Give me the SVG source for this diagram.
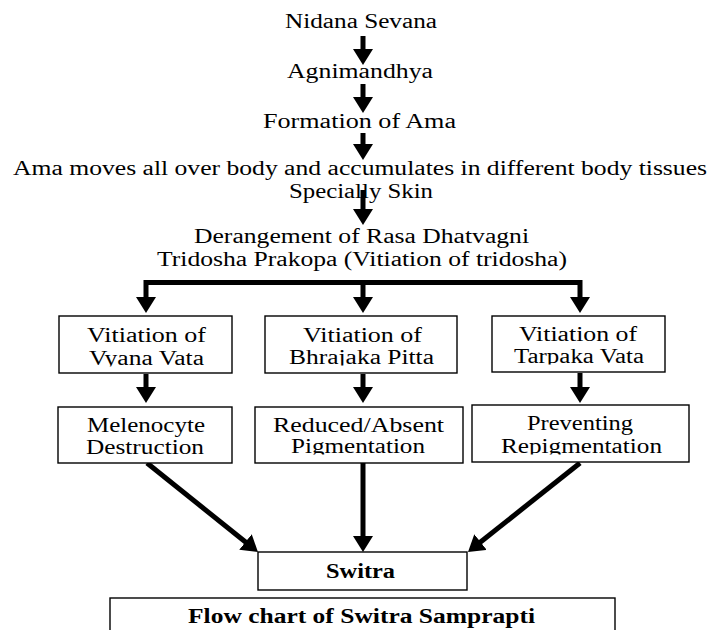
<svg xmlns="http://www.w3.org/2000/svg" width="709" height="630" viewBox="0 0 709 630">
<style>
text{font-family:"Liberation Serif","Times New Roman",serif;font-size:20px;fill:#000}
.b{font-weight:bold}
.box{fill:#fff;stroke:#000;stroke-width:1.4}
.c{fill:none;stroke:#000;stroke-width:5;stroke-linejoin:miter}
</style>
<defs>
<marker id="ah" markerUnits="userSpaceOnUse" markerWidth="17" markerHeight="21" refX="4" refY="10" orient="auto-start-reverse" viewBox="0 0 17 21">
<path d="M0,0 L16,10 L0,20 z" fill="#000"/>
</marker>
<clipPath id="c1"><rect x="0" y="300" width="709" height="66.5"/></clipPath>
<clipPath id="c2"><rect x="0" y="300" width="709" height="65.5"/></clipPath>
<clipPath id="c3"><rect x="0" y="300" width="709" height="64.5"/></clipPath>
<clipPath id="c5"><rect x="0" y="395" width="709" height="59.5"/></clipPath>
<clipPath id="c6"><rect x="0" y="395" width="709" height="59.5"/></clipPath>
</defs>
<rect width="709" height="630" fill="#fff"/>

<g id="connectors">
<line class="c" x1="363" y1="36" x2="363" y2="53" marker-end="url(#ah)"/>
<line class="c" x1="363" y1="84" x2="363" y2="101" marker-end="url(#ah)"/>
<line class="c" x1="363" y1="133" x2="363" y2="148" marker-end="url(#ah)"/>
<line class="c" x1="363" y1="190" x2="363" y2="213" marker-end="url(#ah)"/>
<path class="c" d="M146,301 V282.5 H580 V301" marker-start="url(#ah)" marker-end="url(#ah)"/>
<line class="c" x1="363" y1="282.5" x2="363" y2="301" marker-end="url(#ah)"/>
<line class="c" x1="146" y1="374" x2="146" y2="391" marker-end="url(#ah)"/>
<line class="c" x1="363" y1="374" x2="363" y2="391" marker-end="url(#ah)"/>
<line class="c" x1="580" y1="373" x2="580" y2="391" marker-end="url(#ah)"/>
<line class="c" x1="147" y1="463" x2="248.6" y2="544.5" marker-end="url(#ah)"/>
<line class="c" x1="363" y1="463" x2="363" y2="540" marker-end="url(#ah)"/>
<line class="c" x1="580" y1="463" x2="477.4" y2="544.5" marker-end="url(#ah)"/>
</g>

<g id="n1"><text x="285" y="28" textLength="152" lengthAdjust="spacingAndGlyphs">Nidana Sevana</text></g>
<g id="n2"><text x="287" y="78" textLength="146" lengthAdjust="spacingAndGlyphs">Agnimandhya</text></g>
<g id="n3"><text x="263" y="128" textLength="193" lengthAdjust="spacingAndGlyphs">Formation of Ama</text></g>
<g id="n4">
<text x="13" y="175" textLength="694" lengthAdjust="spacingAndGlyphs">Ama moves all over body and accumulates in different body tissues</text>
<text x="289" y="198" textLength="144" lengthAdjust="spacingAndGlyphs">Specially Skin</text>
</g>
<g id="n5">
<text x="194" y="243" textLength="335" lengthAdjust="spacingAndGlyphs">Derangement of Rasa Dhatvagni</text>
<text x="157" y="266" textLength="410" lengthAdjust="spacingAndGlyphs">Tridosha Prakopa (Vitiation of tridosha)</text>
</g>

<g id="box1">
<rect class="box" x="59" y="316" width="173" height="57"/>
<g clip-path="url(#c1)">
<text x="87" y="342" textLength="119" lengthAdjust="spacingAndGlyphs">Vitiation of</text>
<text x="89" y="365" textLength="115" lengthAdjust="spacingAndGlyphs">Vyana Vata</text>
</g>
</g>
<g id="box2">
<rect class="box" x="265" y="316" width="192" height="57"/>
<g clip-path="url(#c2)">
<text x="303" y="342" textLength="119" lengthAdjust="spacingAndGlyphs">Vitiation of</text>
<text x="289" y="364" textLength="145" lengthAdjust="spacingAndGlyphs">Bhrajaka Pitta</text>
</g>
</g>
<g id="box3">
<rect class="box" x="492" y="316" width="173" height="56"/>
<g clip-path="url(#c3)">
<text x="519" y="341" textLength="118" lengthAdjust="spacingAndGlyphs">Vitiation of</text>
<text x="514" y="363" textLength="130" lengthAdjust="spacingAndGlyphs">Tarpaka Vata</text>
</g>
</g>
<g id="box4">
<rect class="box" x="58" y="407" width="174" height="56"/>
<text x="87" y="432" textLength="118" lengthAdjust="spacingAndGlyphs">Melenocyte</text>
<text x="86" y="454" textLength="118" lengthAdjust="spacingAndGlyphs">Destruction</text>
</g>
<g id="box5">
<rect class="box" x="255" y="407" width="208" height="56"/>
<g clip-path="url(#c5)">
<text x="273" y="432" textLength="171" lengthAdjust="spacingAndGlyphs">Reduced/Absent</text>
<text x="291" y="453" textLength="134" lengthAdjust="spacingAndGlyphs">Pigmentation</text>
</g>
</g>
<g id="box6">
<rect class="box" x="472" y="405" width="217" height="57"/>
<g clip-path="url(#c6)">
<text x="527" y="430" textLength="106" lengthAdjust="spacingAndGlyphs">Preventing</text>
<text x="501" y="453" textLength="161" lengthAdjust="spacingAndGlyphs">Repigmentation</text>
</g>
</g>
<g id="switra">
<rect class="box" x="258" y="552" width="209" height="38"/>
<text class="b" x="326" y="578" textLength="69" lengthAdjust="spacingAndGlyphs">Switra</text>
</g>
<g id="caption">
<rect class="box" x="110" y="598" width="505" height="45"/>
<text class="b" x="188" y="623" textLength="347" lengthAdjust="spacingAndGlyphs">Flow chart of Switra Samprapti</text>
</g>
</svg>
